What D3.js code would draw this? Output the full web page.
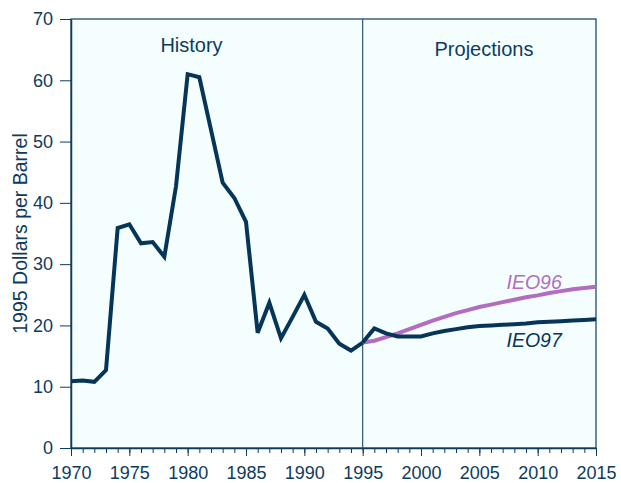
<!DOCTYPE html>
<html>
<head>
    <meta charset="utf-8">
    <style>
        body { margin: 0; background: #fff; }
        svg { display: block; font-family: "Liberation Sans", Arial, sans-serif; }
        .axis path, .axis line { stroke: #0d3b5e; }
        .axis text { fill: #0d3b5e; font-size: 18px; font-family: "Liberation Sans", Arial, sans-serif; }
    </style>
</head>
<body>
    <script src="https://d3js.org/d3.v7.min.js"></script>
    <script>
        // history, 1970-1995 (1995 dollars per barrel)
        let histYears = d3.range(1970, 1996);
        let histValues = [10.9, 11.0, 10.8, 12.7, 35.9, 36.5, 33.4, 33.6, 31.2, 42.7,
                          61.0, 60.5, 51.9, 43.3, 40.8, 36.9, 18.8, 23.7, 17.9, 21.4,
                          25.0, 20.6, 19.5, 17.0, 15.9, 17.2];

        // projections, 1995-2015
        let projYears = d3.range(1995, 2016);
        let ieo96 = [17.2, 17.5, 18.1, 18.7, 19.4, 20.1, 20.8, 21.4, 22.0, 22.5,
                     23.0, 23.4, 23.8, 24.2, 24.6, 24.9, 25.3, 25.6, 25.9, 26.1, 26.3];
        let ieo97 = [17.2, 19.5, 18.7, 18.2, 18.2, 18.2, 18.7, 19.1, 19.4, 19.7,
                     19.9, 20.0, 20.1, 20.2, 20.3, 20.5, 20.6, 20.7, 20.8, 20.9, 21.0];

        let yTicks = [0, 10, 20, 30, 40, 50, 60, 70];
        let xTicks = [1970, 1975, 1980, 1985, 1990, 1995, 2000, 2005, 2010, 2015];

        let w = 621, h = 483;
        let m = { top: 19, right: 25, bottom: 35, left: 71 };

        let svg = d3.select("body").append("svg")
            .attr("width", w)
            .attr("height", h);

        let x = d3.scaleLinear().domain([1970, 2015]).range([m.left, w - m.right]);
        let y = d3.scaleLinear().domain([0, 70]).range([h - m.bottom, m.top]);

        // plot background
        svg.append("rect")
            .attr("x", x(1970)).attr("y", y(70))
            .attr("width", x(2015) - x(1970))
            .attr("height", y(0) - y(70))
            .attr("fill", "#f5fefe")
            .attr("stroke", "#0d3b5e")
            .attr("stroke-width", 1.2);

        // divider between history and projections
        svg.append("line")
            .attr("x1", x(1995)).attr("x2", x(1995))
            .attr("y1", y(70)).attr("y2", y(0))
            .attr("stroke", "#2f5573")
            .attr("stroke-width", 1.2);

        // x axis: minor ticks every year, major every 5
        svg.append("g")
            .attr("class", "axis")
            .attr("transform", "translate(0," + y(0) + ")")
            .call(d3.axisBottom(x).tickValues(d3.range(1970, 2016)).tickSize(5).tickFormat(""))
            .call(g => g.select(".domain").remove());
        svg.append("g")
            .attr("class", "axis")
            .attr("transform", "translate(0," + y(0) + ")")
            .call(d3.axisBottom(x).tickValues(xTicks).tickSize(8).tickPadding(10).tickSizeOuter(0).tickFormat(d3.format("d")))
            .call(g => g.select(".domain").attr("stroke-width", 1.5));

        svg.append("g")
            .attr("class", "axis")
            .attr("transform", "translate(" + x(1970) + ",0)")
            .call(d3.axisLeft(y).tickValues(yTicks).tickSize(11).tickPadding(7).tickSizeOuter(0))
            .call(g => g.select(".domain").attr("stroke-width", 1.5));

        svg.append("text")
            .attr("transform", "translate(27," + (y(35)) + ") rotate(-90)")
            .attr("text-anchor", "middle")
            .attr("fill", "#0d3b5e")
            .attr("font-size", 19.5)
            .text("1995 Dollars per Barrel");

        let line = d3.line()
            .x(d => x(d[0]))
            .y(d => y(d[1]));

        svg.append("path")
            .datum(projYears.map((yr, i) => [yr, ieo96[i]]))
            .attr("d", line)
            .attr("fill", "none")
            .attr("stroke", "#b36cc0")
            .attr("stroke-width", 4);

        svg.append("path")
            .datum(projYears.map((yr, i) => [yr, ieo97[i]]))
            .attr("d", line)
            .attr("fill", "none")
            .attr("stroke", "#063558")
            .attr("stroke-width", 4);

        svg.append("path")
            .datum(histYears.map((yr, i) => [yr, histValues[i]]))
            .attr("d", line)
            .attr("fill", "none")
            .attr("stroke", "#063558")
            .attr("stroke-width", 4)
            .attr("stroke-linejoin", "miter");

        svg.append("text")
            .attr("x", x(1980.33)).attr("y", 52)
            .attr("text-anchor", "middle")
            .attr("fill", "#0d3b5e")
            .attr("font-size", 20)
            .text("History");

        svg.append("text")
            .attr("x", x(2005.4)).attr("y", 56)
            .attr("text-anchor", "middle")
            .attr("fill", "#0d3b5e")
            .attr("font-size", 20)
            .text("Projections");

        svg.append("text")
            .attr("x", x(2009.7)).attr("y", 289)
            .attr("text-anchor", "middle")
            .attr("fill", "#b36cc0")
            .attr("font-size", 19.5)
            .attr("font-style", "italic")
            .text("IEO96");

        svg.append("text")
            .attr("x", x(2009.7)).attr("y", 347)
            .attr("text-anchor", "middle")
            .attr("fill", "#063558")
            .attr("font-size", 19.5)
            .attr("font-style", "italic")
            .text("IEO97");
    </script>
</body>
</html>
